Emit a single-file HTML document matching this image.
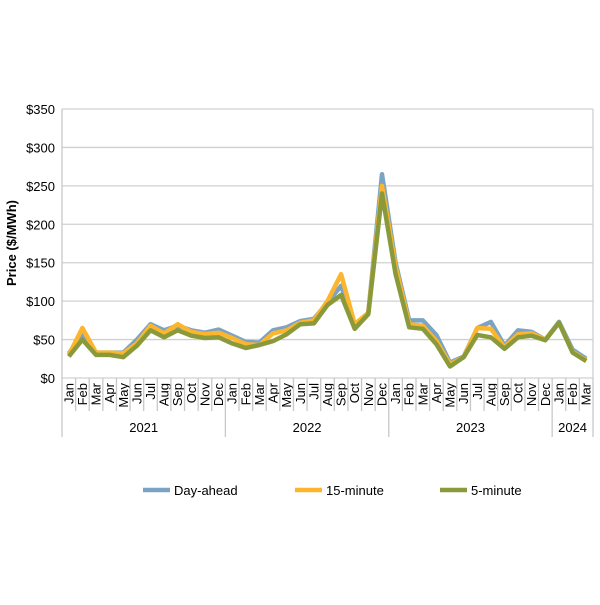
<!DOCTYPE html>
<html><head><style>
body{margin:0;background:#fff;}
text{font-family:"Liberation Sans",sans-serif;fill:#000;}
</style></head><body>
<svg id="s" width="600" height="600" xmlns="http://www.w3.org/2000/svg"></svg>
<script>
const s=document.getElementById('s');
let h='';
const L=62,R=593,T=109,B=378;
const yv=v=>B-(v/350)*(B-T);
for(let i=0;i<=7;i++){const y=yv(i*50);h+=`<line x1="${L}" x2="${R}" y1="${y}" y2="${y}" stroke="#d0d0d0" stroke-width="1.3"/>`;
h+=`<text x="55" y="${y+5}" font-size="13" text-anchor="end">$${i*50}</text>`;}
h+=`<line x1="${R}" x2="${R}" y1="${T}" y2="${B}" stroke="#d0d0d0" stroke-width="1.3"/>`;
h+=`<line x1="${L}" x2="${L}" y1="${T}" y2="437" stroke="#c8c8c8" stroke-width="1.3"/>`;
const n=39,w=(R-L)/n;
const m=['Jan','Feb','Mar','Apr','May','Jun','Jul','Aug','Sep','Oct','Nov','Dec'];
for(let i=0;i<n;i++){const cx=L+w*(i+0.5);
h+=`<text transform="translate(${cx+4.5},${383}) rotate(-90)" font-size="13" text-anchor="end">${m[i%12]}</text>`;
const x=L+w*(i+1);const yb=(i+1)%12==0||i==n-1?437:411;
h+=`<line x1="${x}" x2="${x}" y1="${B}" y2="${yb}" stroke="#c8c8c8" stroke-width="1.3"/>`;}
[[2021,0,12],[2022,12,24],[2023,24,36],[2024,36,39]].forEach(([y,a,b])=>{h+=`<text x="${L+w*(a+b)/2}" y="432" font-size="13" text-anchor="middle">${y}</text>`;});
h+=`<text transform="translate(16,243) rotate(-90)" font-size="13" font-weight="bold" text-anchor="middle">Price ($/MWh)</text>`;
const da=[32,57,33,33,33,50,70,62,68,62,59,63,55,47,46,62,66,74,77,98,120,68,85,265,150,75,75,56,20,28,65,73,42,62,60,50,73,37,25];
const f15=[30,65,33,33,32,45,68,58,70,60,57,59,52,44,43,58,62,72,75,100,135,70,85,250,145,70,68,48,18,27,65,64,40,57,58,50,72,34,23];
const f5=[28,50,30,30,27,42,62,53,62,55,52,53,45,39,43,48,57,70,71,95,108,64,83,240,135,66,64,44,15,27,56,53,38,53,55,49,72,33,22];
[[da,'#7ba4c4'],[f15,'#fdb52e'],[f5,'#8a9a3b']].forEach(([d,c])=>{
h+=`<polyline fill="none" stroke="${c}" stroke-width="4.5" stroke-linejoin="round" points="${d.map((v,i)=>(L+w*(i+0.5)).toFixed(1)+','+yv(v).toFixed(1)).join(' ')}"/>`;});
[[143,'#7ba4c4','Day-ahead'],[295,'#fdb52e','15-minute'],[440,'#8a9a3b','5-minute']].forEach(([x,c,t])=>{
h+=`<line x1="${x}" x2="${x+27}" y1="490" y2="490" stroke="${c}" stroke-width="4.5"/><text x="${x+31}" y="495" font-size="13">${t}</text>`;});
s.innerHTML=h;
</script>
</body></html>
